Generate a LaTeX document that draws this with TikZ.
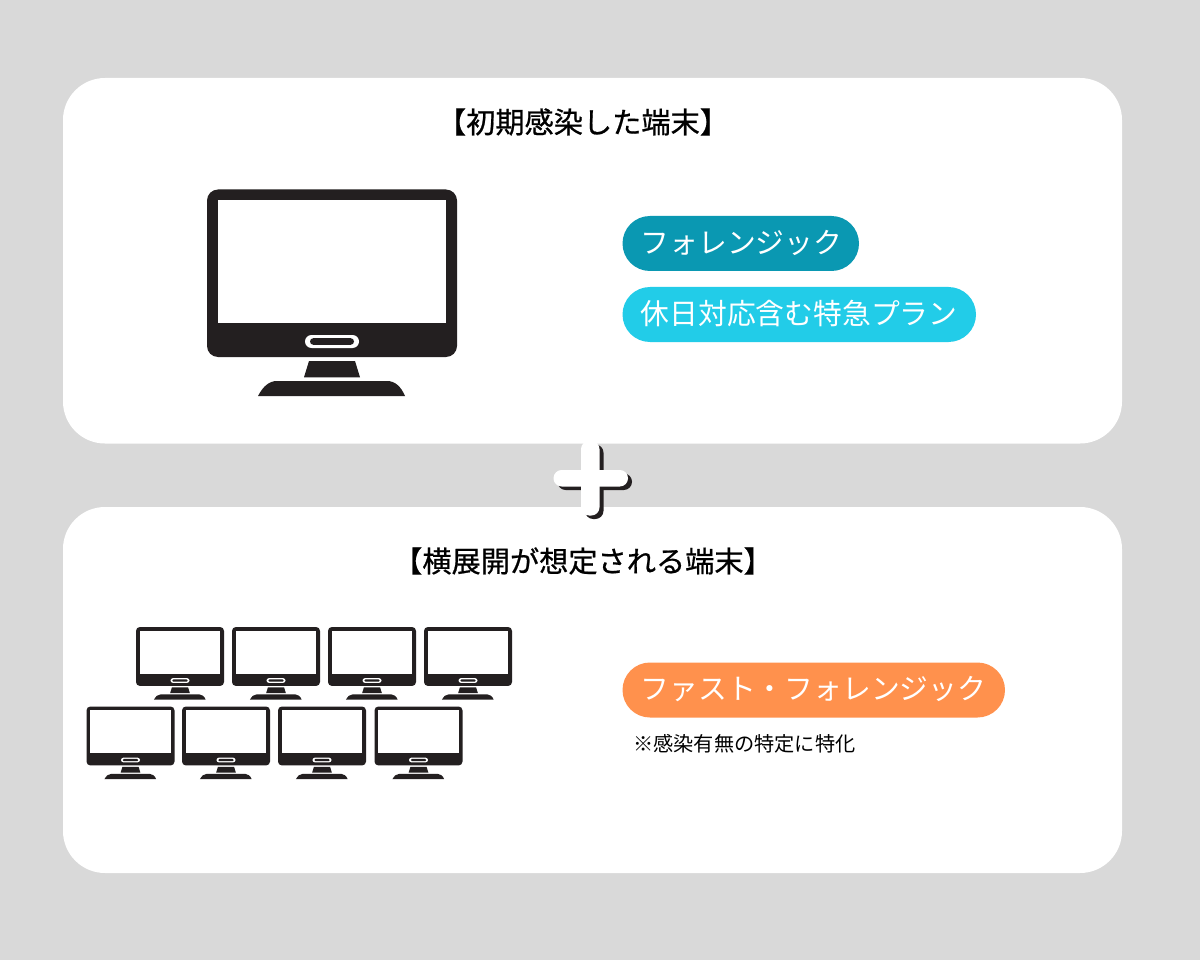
\documentclass[tikz,border=0pt]{standalone}
\usepackage{fontspec}
\newfontfamily\jp{Noto Sans CJK JP}
\newfontfamily\jphead[FakeBold=0.7]{Noto Sans CJK JP}
\definecolor{bgc}{HTML}{D9D9D9}
\definecolor{ink}{HTML}{231F20}
\definecolor{teal}{HTML}{0A98B2}
\definecolor{sky}{HTML}{22CCE8}
\definecolor{orng}{HTML}{FF914D}
\def\mr{1}
\tikzset{
  x=1pt,y=-1pt,
  card/.style={fill=white,rounded corners=42pt},
  pilltext/.style={font=\jp\fontsize{28.8}{29}\selectfont,text=white,anchor=west,inner sep=0pt},
  heading/.style={font=\jphead\fontsize{29.2}{30}\selectfont,text=black,inner sep=0pt},
  note/.style={font=\jp\fontsize{20.2}{20}\selectfont,text=black,anchor=west,inner sep=0pt},
  monitor/.pic={
    \fill[ink,rounded corners=\mr*11pt] (0,0) rectangle (250,167.5);
    \fill[white] (10.5,10.5) rectangle (239,133.2);
    \fill[white,rounded corners=\mr*6.5pt] (98,145.5) rectangle (152,158.5);
    \fill[ink,rounded corners=\mr*3.3pt] (103,148.7) rectangle (147,155.3);
    \fill[ink] (102,171.5) -- (148,171.5) -- (153,187.8) -- (97,187.8) -- cycle;
    \fill[ink] (51,206.5) .. controls (56,197) and (62,191.5) .. (70,191.5) -- (180,191.5) .. controls (188,191.5) and (194,197) .. (198,206.5) -- cycle;
  }
}
\begin{document}
\begin{tikzpicture}
\useasboundingbox (0,0) rectangle (1200,960);
\fill[bgc] (0,0) rectangle (1200,960);
% cards
\fill[card] (63,78) rectangle (1122,443.5);
\fill[card] (63,507) rectangle (1122,873);
% plus
\begin{scope}[shift={(4,3.5)}]
  \fill[ink,rounded corners=8.2pt] (581,441) rectangle (599.5,515.5);
  \fill[ink,rounded corners=8.2pt] (553.5,470) rectangle (628,486.5);
\end{scope}
\fill[white,rounded corners=8.2pt] (581,441) rectangle (599.5,515.5);
\fill[white,rounded corners=8.2pt] (553.5,470) rectangle (628,486.5);
% headings
\node[heading] (h1) at (583,122) {【初期感染した端末】};
\node[heading] (h2) at (583,561) {【横展開が想定される端末】};
% big monitor
\pic at (207,189.5) {monitor};
% small monitors
\def\mr{0.352}
\foreach \mx in {136,232,328,424}
  \pic[scale=0.352] at (\mx,627) {monitor};
\foreach \mx in {86.5,182,278,374.5}
  \pic[scale=0.352] at (\mx,706.5) {monitor};
% pills
\fill[teal,rounded corners=27.5pt] (622.5,216) rectangle (859,271);
\node[pilltext] (p1) at (640.5,243) {フォレンジック};
\fill[sky,rounded corners=27.5pt] (622.5,287) rectangle (976,342);
\node[pilltext] (p2) at (640.5,314) {休日対応含む特急プラン};
\fill[orng,rounded corners=27.5pt] (622.5,662.5) rectangle (1005,717.5);
\node[pilltext] (p3) at (640.5,689.5) {ファスト・フォレンジック};
\node[note] (n1) at (633,744) {※感染有無の特定に特化};
\end{tikzpicture}
\end{document}
